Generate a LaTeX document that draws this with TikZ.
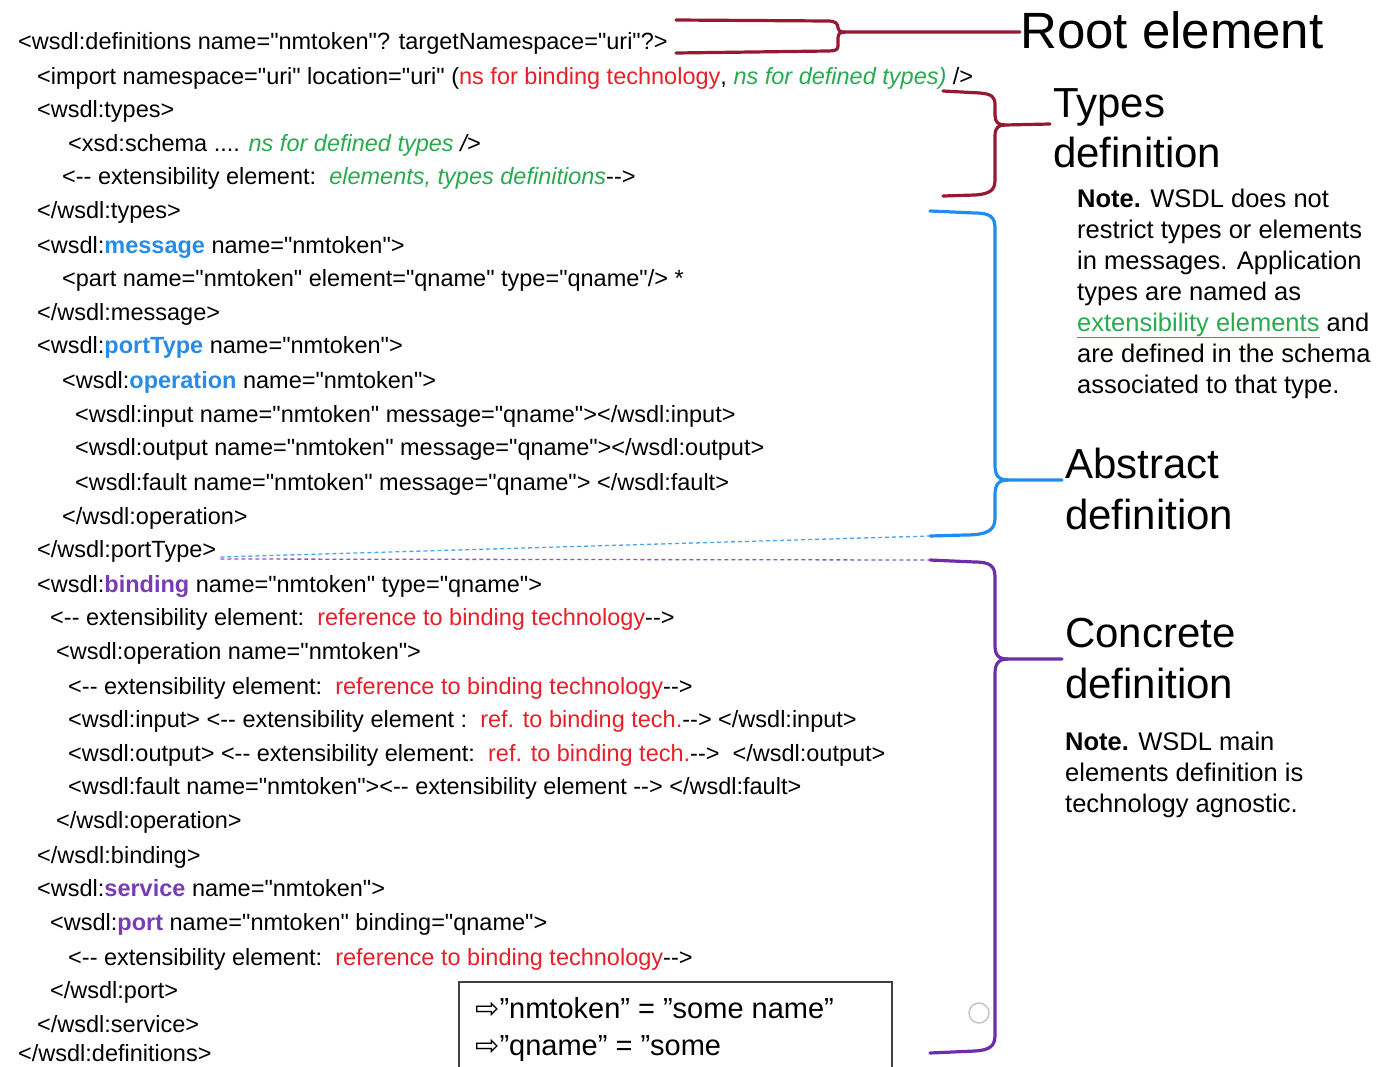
\documentclass[tikz,border=0pt]{standalone}
\usepackage{fontspec}
\setmainfont{Liberation Sans}[Ligatures=TeXOff]
\newfontfamily\arrowfont{DejaVu Sans}

\definecolor{codered}{RGB}{232,30,40}
\definecolor{codegreen}{RGB}{40,170,80}
\definecolor{codeblue}{RGB}{40,140,230}
\definecolor{codepurple}{RGB}{120,60,180}
\definecolor{bracered}{RGB}{150,25,50}
\definecolor{braceblue}{RGB}{30,140,240}
\definecolor{bracepurple}{RGB}{110,45,170}

% inline colour helpers for the listing
\newcommand\rd[1]{\textcolor{codered}{#1}}
\newcommand\gi[1]{\textcolor{codegreen}{\itshape #1}}
\newcommand\bb[1]{\textcolor{codeblue}{\bfseries #1}}
\newcommand\pb[1]{\textcolor{codepurple}{\bfseries #1}}
\newcommand\ddash{--}
\newcommand\rarr{{\arrowfont ⇨}}

\tikzset{
  code/.style={anchor=base west, inner sep=0pt, font=\fontsize{23.5}{28}\selectfont},
  title/.style={anchor=base west, inner sep=0pt, font=\fontsize{42}{50}\selectfont},
  bigtitle/.style={anchor=base west, inner sep=0pt, font=\fontsize{51}{58}\selectfont},
  note/.style={anchor=base west, inner sep=0pt, font=\fontsize{25.5}{31}\selectfont},
  boxtext/.style={anchor=base west, inner sep=0pt, font=\fontsize{29}{34}\selectfont},
  brace/.style={line width=3.2pt, line cap=round, line join=round},
  guide/.style={line width=1.3pt, dash pattern=on 4pt off 3pt},
}

\begin{document}
\begin{tikzpicture}[x=1pt,y=-1pt]
\useasboundingbox (0,0) rectangle (1376,1066);

% ---------------- WSDL listing ----------------
\node[code] (l1)  at (18,49)   {<wsdl:definitions name="nmtoken"? targetNamespace="uri"?>};
\node[code] (l2)  at (37,84)   {<import namespace="uri" location="uri" (\rd{ns for binding technology}, \gi{ns for defined types)} />};
\node[code] (l3)  at (37,117)  {<wsdl:types>};
\node[code] (l4)  at (68,151)  {<xsd:schema .... \gi{ns for defined types} \textit{/>}};
\node[code] (l5)  at (62,184)  {<\ddash{} extensibility element:\ \ \gi{elements, types definitions}\ddash>};
\node[code] (l6)  at (37,218)  {</wsdl:types>};
\node[code] (l7)  at (37,253)  {<wsdl:\bb{message} name="nmtoken">};
\node[code] (l8)  at (62,286)  {<part name="nmtoken" element="qname" type="qname"/> *};
\node[code] (l9)  at (37,320)  {</wsdl:message>};
\node[code] (l10) at (37,353)  {<wsdl:\bb{portType} name="nmtoken">};
\node[code] (l11) at (62,388)  {<wsdl:\bb{operation} name="nmtoken">};
\node[code] (l12) at (75,422)  {<wsdl:input name="nmtoken" message="qname"></wsdl:input>};
\node[code] (l13) at (75,455)  {<wsdl:output name="nmtoken" message="qname"></wsdl:output>};
\node[code] (l14) at (75,490)  {<wsdl:fault name="nmtoken" message="qname"> </wsdl:fault>};
\node[code] (l15) at (62,524)  {</wsdl:operation>};
\node[code] (l16) at (37,557)  {</wsdl:portType>};
\node[code] (l17) at (37,592)  {<wsdl:\pb{binding} name="nmtoken" type="qname">};
\node[code] (l18) at (50,625)  {<\ddash{} extensibility element:\ \ \rd{reference to binding technology}\ddash>};
\node[code] (l19) at (56,659)  {<wsdl:operation name="nmtoken">};
\node[code] (l20) at (68,694)  {<\ddash{} extensibility element:\ \ \rd{reference to binding technology}\ddash>};
\node[code] (l21) at (68,727)  {<wsdl:input> <\ddash{} extensibility element :\ \ \rd{ref. to binding tech.}\ddash> </wsdl:input>};
\node[code] (l22) at (68,761)  {<wsdl:output> <\ddash{} extensibility element:\ \ \rd{ref. to binding tech.}\ddash>\ \ </wsdl:output>};
\node[code] (l23) at (68,794)  {<wsdl:fault name="nmtoken"><\ddash{} extensibility element \ddash> </wsdl:fault>};
\node[code] (l24) at (56,828)  {</wsdl:operation>};
\node[code] (l25) at (37,863)  {</wsdl:binding>};
\node[code] (l26) at (37,896)  {<wsdl:\pb{service} name="nmtoken">};
\node[code] (l27) at (50,930)  {<wsdl:\pb{port} name="nmtoken" binding="qname">};
\node[code] (l28) at (68,965)  {<\ddash{} extensibility element:\ \ \rd{reference to binding technology}\ddash>};
\node[code] (l29) at (50,998)  {</wsdl:port>};
\node[code] (l30) at (37,1032) {</wsdl:service>};
\node[code] (l31) at (18,1061) {</wsdl:definitions>};

% ---------------- section labels ----------------
\node[bigtitle] (root) at (1020,48) {Root element};
\node[title] (types1) at (1053,117) {Types};
\node[title] (types2) at (1053,167) {definition};
\node[title] (abs1) at (1065,478) {Abstract};
\node[title] (abs2) at (1065,529) {definition};
\node[title] (con1) at (1065,647) {Concrete};
\node[title] (con2) at (1065,698) {definition};

% ---------------- notes ----------------
\node[note] (n1a) at (1077,207) {\textbf{Note.} WSDL does not};
\node[note] (n1b) at (1077,238) {restrict types or elements};
\node[note] (n1c) at (1077,269) {in messages. Application};
\node[note] (n1d) at (1077,300) {types are named as};
\node[note] (n1e) at (1077,331) {\textcolor{codegreen}{\underline{extensibility elements}} and};
\node[note] (n1f) at (1077,362) {are defined in the schema};
\node[note] (n1g) at (1077,393) {associated to that type.};

\node[note] (n2a) at (1065,750) {\textbf{Note.} WSDL main};
\node[note] (n2b) at (1065,781) {elements definition is};
\node[note] (n2c) at (1065,812) {technology agnostic.};

% ---------------- legend box ----------------
\draw[line width=1.5pt, black!75] (459,982) rectangle (892,1072);
\node[boxtext] (k1) at (475,1018) {\rarr”nmtoken” = ”some name”};
\node[boxtext] (k2) at (475,1055) {\rarr”qname” = ”some};
\draw[line width=1.3pt, black!25] (979,1013) circle (10);

% ---------------- braces ----------------
\coordinate (rtip) at (845,32);
\draw[brace, bracered] (676,20) -- (828,21) .. controls (836,21) and (838,24) .. (838,28)
   .. controls (838,31) and (840,32) .. (rtip) -- (root.west |- rtip);
\draw[brace, bracered] (rtip) .. controls (840,32) and (838,34) .. (838,38) -- (838,46)
   .. controls (838,50) and (835,51) .. (828,51) -- (676,53);

\coordinate (ttip) at (1005,125);
\draw[brace, bracered] (943,91) -- (980,93) .. controls (992,94) and (995,97) .. (995,105) -- (995,115)
   .. controls (995,122) and (998,125) .. (ttip) -- (1050,124);
\draw[brace, bracered] (ttip) .. controls (998,125) and (995,128) .. (995,136) -- (995,180)
   .. controls (995,190) and (990,194) .. (975,195) -- (943,196);

\coordinate (atip) at (1008,480);
\draw[brace, braceblue] (930,211) -- (975,213) .. controls (990,213) and (995,217) .. (995,228) -- (995,465)
   .. controls (995,475) and (998,480) .. (atip) -- (1062,480);
\draw[brace, braceblue] (atip) .. controls (998,480) and (995,485) .. (995,495) -- (995,518)
   .. controls (995,530) and (988,535) .. (965,535) -- (930,536);

\coordinate (ctip) at (1008,659);
\draw[brace, bracepurple] (930,560) -- (975,562) .. controls (990,562) and (995,566) .. (995,577) -- (995,645)
   .. controls (995,655) and (998,659) .. (ctip) -- (1062,659);
\draw[brace, bracepurple] (ctip) .. controls (998,659) and (995,664) .. (995,674) -- (995,1035)
   .. controls (995,1046) and (990,1050) .. (975,1051) -- (930,1053);

% dashed guides from the end of the portType element
\coordinate (pt) at ([xshift=4pt]l16.base east);
\draw[guide, braceblue!80] (pt) -- (930,536);
\draw[guide, bracepurple!80] ([yshift=-2pt]pt) -- (930,560);
\end{tikzpicture}
\end{document}
